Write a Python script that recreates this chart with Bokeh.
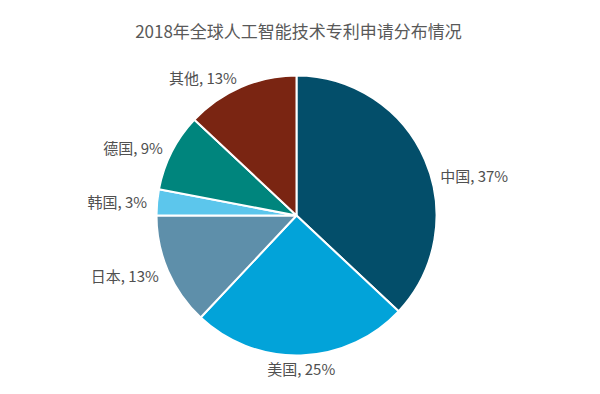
import math
from bokeh.plotting import figure
from bokeh.models import Range1d, ColumnDataSource, Label
from bokeh.embed import file_html
from bokeh.resources import INLINE

# ---- data ----
countries = ["中国", "美国", "日本", "韩国", "德国", "其他"]
shares = [37, 25, 13, 3, 9, 13]
colors = ["#034E6A", "#02A3D9", "#5E8FAA", "#5CC6EC", "#00857D", "#7A2512"]
title_text = "2018年全球人工智能技术专利申请分布情况"

W, H = 592, 386
FONT = "Noto Sans CJK SC"
TXT = "#505050"

# one data unit == one screen pixel; y measured upward from page bottom
p = figure(width=W, height=H, output_backend="svg", toolbar_location=None,
           x_range=Range1d(0, W), y_range=Range1d(394 - H, 394),
           min_border=0, background_fill_color="white", border_fill_color="white")
p.axis.visible = False
p.grid.visible = False
p.outline_line_color = None

cx, cy, r = 296, 179, 140
total = sum(shares)
starts, ends, mids = [], [], []
cum = 0.0
for s in shares:
    a0 = cum / total * 2 * math.pi
    cum += s
    a1 = cum / total * 2 * math.pi
    starts.append(math.pi / 2 - a0)
    ends.append(math.pi / 2 - a1)
    mids.append((a0 + a1) / 2)

src = ColumnDataSource(dict(start=starts, end=ends, color=colors))
p.wedge(x=cx, y=cy, radius=r, start_angle="start", end_angle="end",
        direction="clock", fill_color="color", line_color="white",
        line_width=2, source=src)

# labels placed just outside each slice's middle
nudge = {"中国": (6, -20), "美国": (0, 7)}
for name, s, m in zip(countries, shares, mids):
    rr = r + 10
    x = cx + rr * math.sin(m)
    y = cy + rr * math.cos(m)
    dx, dy = nudge.get(name, (0, 0))
    x += dx
    y += dy
    if abs(math.sin(m)) < 0.2:
        align = "center"
        base = "top" if math.cos(m) < 0 else "bottom"
    else:
        align = "left" if math.sin(m) > 0 else "right"
        base = "middle"
    p.add_layout(Label(x=x, y=y, text=f"{name}, {s}%", text_align=align,
                       text_baseline=base, text_font=FONT,
                       text_font_size="15px", text_color=TXT))

p.add_layout(Label(x=298, y=H - 30, x_units="screen", y_units="screen",
                   text=title_text, text_align="center", text_baseline="middle",
                   text_font=FONT, text_font_size="17px", text_color="#595959"))

open("out.html", "w").write(file_html(p, INLINE))
